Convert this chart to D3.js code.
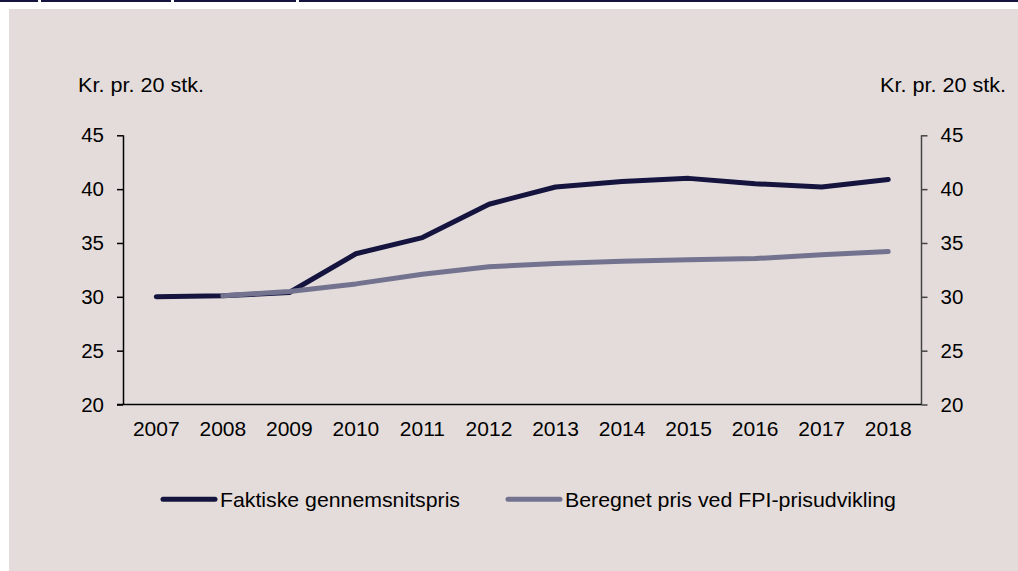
<!DOCTYPE html>
<html>
<head>
<meta charset="utf-8">
<script src="https://cdn.jsdelivr.net/npm/d3@7"></script>
<style>
  body { margin: 0; background: #fff; }
  svg { display: block; font-family: "Liberation Sans", Arial, sans-serif; }
</style>
</head>
<body>
<div id="chart"></div>
<script>
// data
var years = ["2007","2008","2009","2010","2011","2012","2013","2014","2015","2016","2017","2018"];
var faktiske = [30.0, 30.1, 30.4, 34.0, 35.5, 38.6, 40.2, 40.7, 41.0, 40.5, 40.2, 40.9];
var fpi = [null, 30.1, 30.5, 31.2, 32.1, 32.8, 33.1, 33.3, 33.45, 33.55, 33.9, 34.2];
var yTicks = [20, 25, 30, 35, 40, 45];
var seriesNames = ["Faktiske gennemsnitspris", "Beregnet pris ved FPI-prisudvikling"];
var colors = ["#14143f", "#737390"];

var W = 1018, H = 571;
var svg = d3.select('#chart').append('svg')
  .attr('width', W).attr('height', H);

// background panel + top rule
svg.append('rect').attr('x', 9).attr('y', 9).attr('width', W - 9).attr('height', H - 9)
  .attr('fill', '#e4dcda');
[[0, 38], [41, 171], [174, 296], [299, W]].forEach(function(s) {
  svg.append('rect').attr('x', s[0]).attr('y', 0).attr('width', s[1] - s[0]).attr('height', 2)
    .attr('fill', '#14143f');
});

var plotL = 123, plotR = 921.5, plotT = 135.3, plotB = 404.5;

var x = d3.scaleBand().domain(years).range([plotL, plotR]);
var y = d3.scaleLinear().domain([20, 45]).range([plotB, plotT]);

// axes
var yl = svg.append('g').attr('transform', 'translate(' + plotL + ',0)')
  .call(d3.axisLeft(y).tickValues(yTicks).tickSize(6).tickPadding(13));
var yr = svg.append('g').attr('transform', 'translate(' + plotR + ',0)')
  .call(d3.axisRight(y).tickValues(yTicks).tickSize(6).tickPadding(13));
var xa = svg.append('g').attr('transform', 'translate(0,' + plotB + ')')
  .call(d3.axisBottom(x).tickSize(0).tickPadding(17));

[yl, yr, xa].forEach(function(g) {
  g.selectAll('text').attr('font-size', 20.5).attr('fill', '#000')
    .attr('font-family', '"Liberation Sans", Arial, sans-serif');
  g.selectAll('path').attr('stroke', '#000').attr('stroke-width', 1.5);
  g.selectAll('line').attr('stroke', '#000').attr('stroke-width', 1.5);
});
xa.selectAll('text').attr('font-size', 21);
yl.select('.domain').attr('d', 'M0.5,' + plotT + 'V' + plotB);
yr.select('.domain').attr('d', 'M0,' + plotT + 'V' + plotB).attr('stroke', '#444');
yr.selectAll('line').attr('stroke', '#444');
xa.select('.domain').attr('d', 'M' + (plotL - 6) + ',0H' + plotR);

// unit labels
svg.append('text').attr('x', 78).attr('y', 92.3).attr('font-size', 21)
  .attr('textLength', 126).attr('lengthAdjust', 'spacingAndGlyphs').text('Kr. pr. 20 stk.');
svg.append('text').attr('x', 880).attr('y', 92.3).attr('font-size', 21)
  .attr('textLength', 126).attr('lengthAdjust', 'spacingAndGlyphs').text('Kr. pr. 20 stk.');

// lines
var line = d3.line()
  .defined(function(d) { return d != null; })
  .x(function(d, i) { return x(years[i]) + x.bandwidth() / 2; })
  .y(function(d) { return y(d); });

[faktiske, fpi].forEach(function(s, k) {
  svg.append('path').datum(s)
    .attr('d', line)
    .attr('fill', 'none')
    .attr('stroke', colors[k])
    .attr('stroke-width', 5)
    .attr('stroke-linecap', 'round')
    .attr('stroke-linejoin', 'round');
});

// legend
var legX = [163, 508];
var legW = [240, 331];
seriesNames.forEach(function(n, k) {
  svg.append('line').attr('x1', legX[k]).attr('x2', legX[k] + 52)
    .attr('y1', 499.3).attr('y2', 499.3)
    .attr('stroke', colors[k]).attr('stroke-width', 5).attr('stroke-linecap', 'round');
  svg.append('text').attr('x', legX[k] + 57).attr('y', 506.7).attr('font-size', 21)
    .attr('textLength', legW[k]).attr('lengthAdjust', 'spacingAndGlyphs')
    .text(n);
});
</script>
</body>
</html>
